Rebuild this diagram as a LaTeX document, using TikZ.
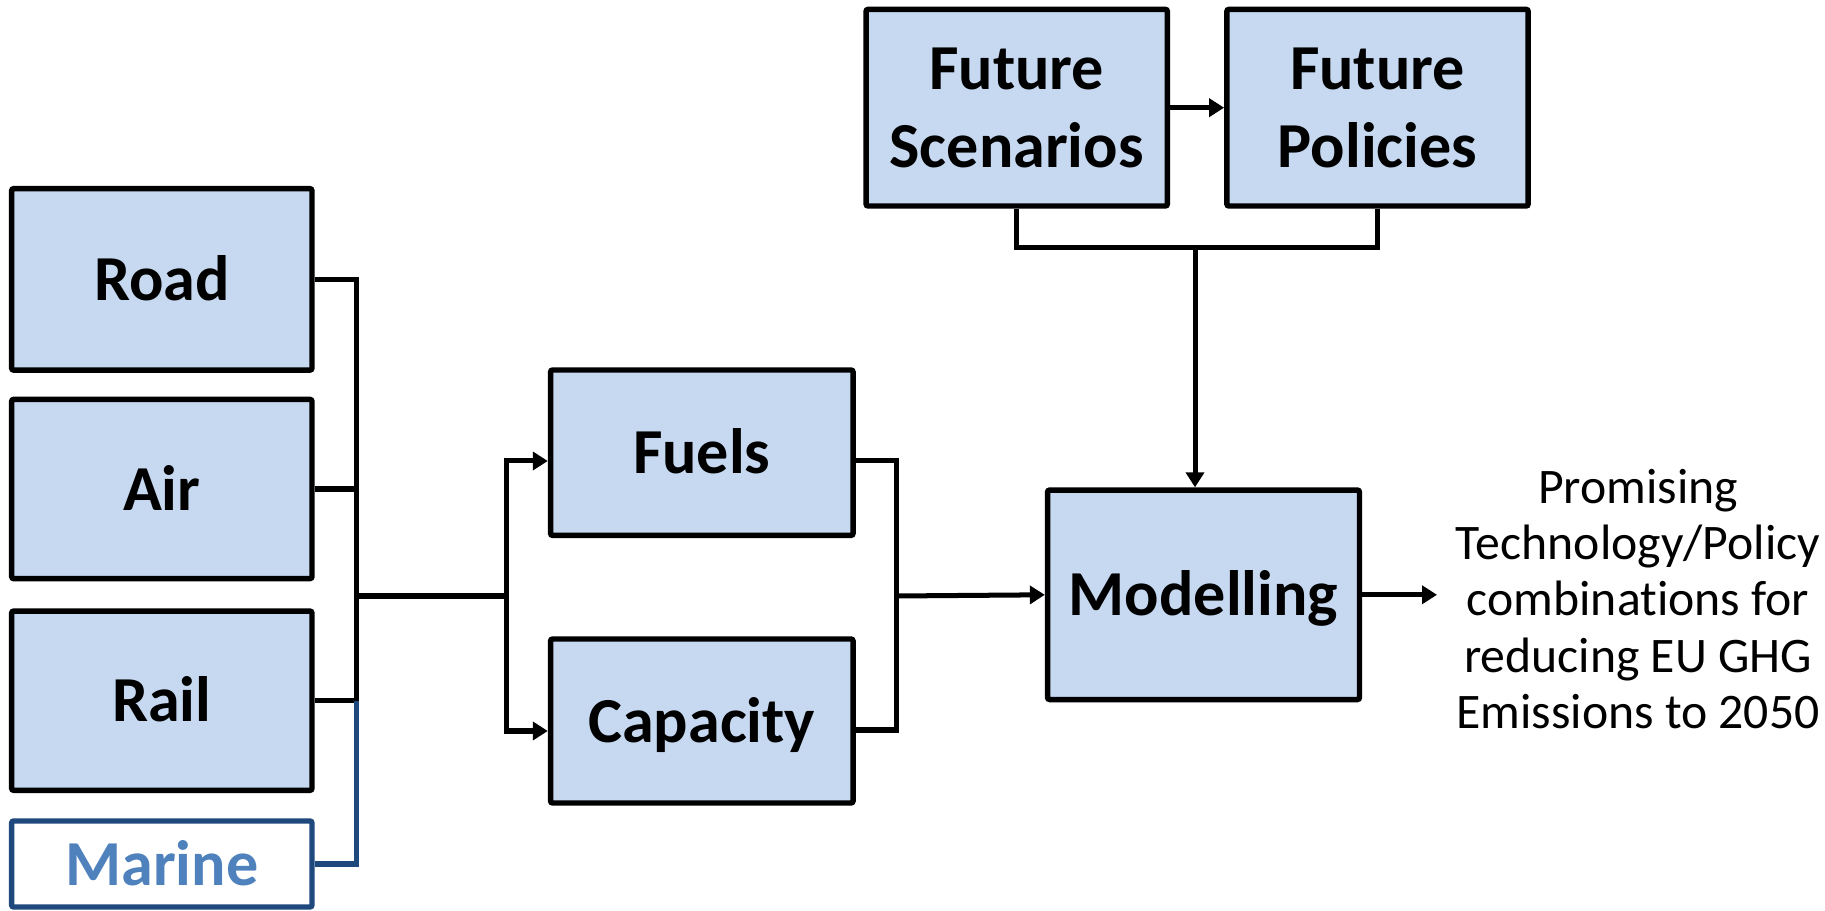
\documentclass[tikz,border=0pt]{standalone}
\usepackage{fontspec}
\setmainfont{Carlito}[Ligatures=NoCommon]
\usetikzlibrary{arrows.meta}
\definecolor{boxfill}{HTML}{C6D9F1}
\definecolor{navy}{HTML}{1F497D}
\definecolor{steel}{HTML}{4F81BD}
\begin{document}
\begin{tikzpicture}[x=0.02cm,y=-0.02cm,
  box/.style={draw=black, fill=boxfill, line width=3.1pt, rounded corners=1.2pt,
    font=\fontsize{36.5}{44.5}\selectfont\bfseries, align=center, inner sep=0pt},
  oneline/.style={text height=27pt, text depth=3pt},
  conn/.style={line width=2.85pt},
  arr/.style={conn, -{Triangle[length=0.3cm,width=0.36cm]}},
]
\fill[white] (0,0) rectangle (1825,911);
\useasboundingbox (0,0) rectangle (1825,911);

% transport modes
\node[box,oneline,minimum width=6.008cm,minimum height=3.63cm] (road) at (161.8,279.4) {Road};
\node[box,oneline,minimum width=6.008cm,minimum height=3.586cm] (air) at (161.8,489) {Air};
\node[box,oneline,minimum width=6.008cm,minimum height=3.586cm] (rail) at (161.8,700.7) {Rail};
\node[box,oneline,draw=navy,fill=white,text=steel,minimum width=6.008cm,minimum height=1.72cm] (marine) at (161.8,864) {Marine};

% fuels and capacity
\node[box,oneline,minimum width=6.052cm,minimum height=3.308cm] (fuels) at (701.8,452.7) {Fuels};
\node[box,oneline,minimum width=6.052cm,minimum height=3.28cm] (capacity) at (701.8,721) {Capacity};

% modelling and scenario inputs
\node[box,oneline,minimum width=6.24cm,minimum height=4.19cm] (model) at (1203.5,594.8) {Modelling};
\node[box,minimum width=6.028cm,minimum height=3.934cm] (scen) at (1016.7,107.7) {Future\\Scenarios};
\node[box,minimum width=6.028cm,minimum height=3.934cm] (pol) at (1377.5,107.7) {Future\\Policies};

% outcome
\node[font=\fontsize{28.3}{32}\selectfont, align=center, inner sep=0pt] (result) at (1638,599)
  {Promising\\Technology/Policy\\combinations for\\reducing EU GHG\\Emissions to 2050};

% junction points
\coordinate (lbus) at (356,596);
\coordinate (fork) at (506,596);
\coordinate (rbus) at (896,596);
\coordinate (tbus) at (1195,248);
\coordinate (resultTip) at (1437,595);
\coordinate (fuelsIn) at ([yshift=-0.166cm]fuels.west);
\coordinate (capIn) at ([yshift=-0.2cm]capacity.west);
\coordinate (fuelsOut) at ([yshift=-0.166cm]fuels.east);
\coordinate (capOut) at ([yshift=-0.18cm]capacity.east);

% mode bracket
\draw[conn] (road.east) -| (lbus |- rail.east) -- (rail.east);
\draw[conn] (air.east) -- (air.east -| lbus);
\draw[conn,navy] (rail.east -| lbus) |- (marine.east);
\draw[conn] (lbus) -- (fork);
\draw[arr] (fork) |- (fuelsIn);
\draw[arr] (fork) |- (capIn);

% fuels/capacity bracket
\draw[conn] (fuelsOut) -| (rbus |- capOut) -- (capOut);
\draw[arr] (rbus) -- (model.west);

% scenarios and policies
\draw[arr] (scen.east) -- (pol.west);
\draw[conn] (scen.south) |- (tbus) -| (pol.south);
\draw[arr] (tbus) -- (tbus |- model.north);

% output
\draw[arr] (model.east) -- (model.east -| resultTip);
\end{tikzpicture}
\end{document}
